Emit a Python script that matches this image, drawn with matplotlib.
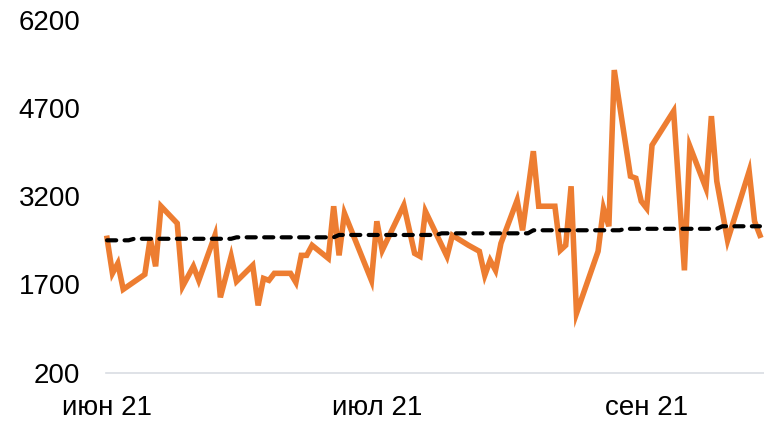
import pandas as pd
import matplotlib
matplotlib.use("Agg")
import matplotlib.pyplot as plt
import matplotlib.dates as mdates

# Дневные значения
dates = pd.to_datetime([
    "2021-06-01", "2021-06-02", "2021-06-03", "2021-06-04", "2021-06-08",
    "2021-06-09", "2021-06-10", "2021-06-11", "2021-06-14", "2021-06-15",
    "2021-06-17", "2021-06-18", "2021-06-21", "2021-06-22", "2021-06-24",
    "2021-06-25", "2021-06-28", "2021-06-29", "2021-06-30", "2021-07-01",
    "2021-07-02", "2021-07-05", "2021-07-06", "2021-07-07", "2021-07-08",
    "2021-07-09", "2021-07-12", "2021-07-13", "2021-07-14", "2021-07-15",
    "2021-07-20", "2021-07-21", "2021-07-22", "2021-07-26", "2021-07-28",
    "2021-07-29", "2021-07-30", "2021-08-03", "2021-08-04", "2021-08-07",
    "2021-08-09", "2021-08-10", "2021-08-11", "2021-08-12", "2021-08-13",
    "2021-08-16", "2021-08-17", "2021-08-19", "2021-08-20", "2021-08-23",
    "2021-08-24", "2021-08-25", "2021-08-26", "2021-08-27", "2021-08-31",
    "2021-09-01", "2021-09-02", "2021-09-03", "2021-09-06", "2021-09-07",
    "2021-09-08", "2021-09-09", "2021-09-10", "2021-09-14", "2021-09-16",
    "2021-09-17", "2021-09-20", "2021-09-21", "2021-09-22", "2021-09-24",
    "2021-09-28", "2021-09-29", "2021-09-30",
])
values = [
    2484, 1888, 2058, 1615, 1870,
    2484, 2007, 3030, 2740, 1666,
    2007, 1768, 2535, 1479, 2177,
    1751, 2024, 1342, 1802, 1768,
    1888, 1888, 1734, 2194, 2194,
    2365, 2143, 3030, 2194, 2910,
    1768, 2774, 2280, 3047, 2228,
    2177, 2944, 2177, 2535, 2365,
    2263, 1853, 2109, 1939, 2399,
    3132, 2620, 3967, 3030, 3030,
    2280, 2365, 3370, 1206, 2263,
    2996, 2689, 5348, 3541, 3507,
    3115, 2996, 4069, 4649, 1939,
    4052, 3336, 4564, 3456, 2450,
    3626, 2774, 2535,
]

# Тренд (пунктир), точки излома
trend_dates = pd.to_datetime([
    "2021-06-01", "2021-06-05", "2021-06-06", "2021-06-24", "2021-06-25",
    "2021-07-13", "2021-07-14", "2021-08-01", "2021-08-02", "2021-08-18",
    "2021-08-19", "2021-09-04", "2021-09-05", "2021-09-22", "2021-09-23",
    "2021-09-30",
])
trend_values = [
    2450, 2450, 2476, 2476, 2501,
    2501, 2541, 2541, 2569, 2569,
    2621, 2621, 2646, 2646, 2689,
    2689,
]

y_ticks = [200, 1700, 3200, 4700, 6200]
x_ticks = pd.to_datetime(["2021-06-01", "2021-07-21", "2021-09-09"])
months_ru = {6: "июн", 7: "июл", 8: "авг", 9: "сен"}

plt.rcParams['font.family'] = ['Liberation Sans', 'DejaVu Sans']

fig = plt.figure(figsize=(7.64, 4.21), dpi=100)
ax = fig.add_axes([0.1387, 0.1152, 0.8613, 0.8373])

ax.plot(dates, values, color='#ED7D31', linewidth=4.0, solid_joinstyle='miter',
        zorder=2, clip_on=False)
ax.plot(trend_dates, trend_values, color='black', linewidth=3.0,
        linestyle=(0, (2.2, 2.0)), dash_capstyle='round', zorder=3, clip_on=False)

ax.set_ylim(200, 6200)
ax.set_yticks(y_ticks)
ax.set_yticklabels([str(v) for v in y_ticks])
ax.set_xlim(mdates.date2num(dates[0]) - 0.2, mdates.date2num(dates[-1]) + 0.75)
ax.set_xticks(x_ticks)
ax.set_xticklabels([f"{months_ru[d.month]} {d.strftime('%y')}" for d in x_ticks])

for s in ['top', 'right', 'left']:
    ax.spines[s].set_visible(False)
ax.spines['bottom'].set_color('#d9dde3')
ax.spines['bottom'].set_linewidth(1.2)
ax.tick_params(axis='both', length=0, labelsize=20, colors='black')
ax.tick_params(axis='y', pad=18.5)
ax.tick_params(axis='x', pad=16)

fig.savefig('out.png', dpi=100)
